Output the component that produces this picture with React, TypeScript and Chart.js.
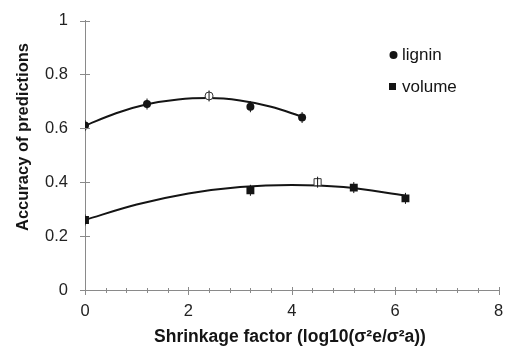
import React, { useEffect, useRef } from 'react';
import { Chart, registerables } from 'chart.js';

Chart.register(...registerables);

// Observed data (filled markers)
const ligninX = [0, 1.2, 3.2, 4.2];
const ligninY = [0.61, 0.69, 0.68, 0.64];
const volumeX = [0, 3.2, 5.2, 6.2];
const volumeY = [0.26, 0.37, 0.38, 0.34];
// Optimum (open markers)
const ligninOptX = [2.4];
const ligninOptY = [0.72];
const volumeOptX = [4.5];
const volumeOptY = [0.40];
// Fitted trend curves
const ligninTrendX = [0, 0.6, 1.2, 1.8, 2.4, 3.0, 3.6, 4.2];
const ligninTrendY = [0.61, 0.656, 0.689, 0.707, 0.712, 0.703, 0.68, 0.643];
const volumeTrendX = [0, 1, 2, 3, 4, 5, 6.2];
const volumeTrendY = [0.26, 0.317, 0.358, 0.382, 0.39, 0.382, 0.35];

const xTickLabels = ['0', '2', '4', '6', '8'];
const yTickLabels = ['0', '0.2', '0.4', '0.6', '0.8', '1'];
const seriesNames = ['lignin', 'volume'];
const xTitle = 'Shrinkage factor (log10(\u03c3\u00b2e/\u03c3\u00b2a))';
const yTitle = 'Accuracy of predictions';

const pts = (xs: number[], ys: number[]) => xs.map((x, i) => ({ x, y: ys[i] }));

const FONT = '"Liberation Sans", Arial, sans-serif';
const AXIS = '#8a8a8a';
const INK = '#141414';

const decorPlugin = {
  id: 'decor',
  afterDraw(chart: any) {
    const { ctx, chartArea, scales } = chart;
    const xs = scales.x;
    const ys = scales.y;
    ctx.save();
    ctx.strokeStyle = AXIS;
    ctx.lineWidth = 1;
    // x ticks (crossing)
    const y0 = ys.getPixelForValue(0);
    for (let i = 0; i <= 20; i++) {
      const v = i * 0.4;
      const px = Math.round(xs.getPixelForValue(v)) + 0.5;
      const major = i % 5 === 0;
      ctx.beginPath();
      ctx.moveTo(px, y0 - (major ? 3 : 2));
      ctx.lineTo(px, y0 + (major ? 5 : 3));
      ctx.stroke();
    }
    // y ticks
    const x0 = xs.getPixelForValue(0);
    for (let i = 0; i <= 5; i++) {
      const py = Math.round(ys.getPixelForValue(i * 0.2)) + 0.5;
      ctx.beginPath();
      ctx.moveTo(x0 - 5, py);
      ctx.lineTo(x0 + 5, py);
      ctx.stroke();
    }
    // axis titles
    ctx.fillStyle = INK;
    ctx.textAlign = 'center';
    ctx.textBaseline = 'middle';
    ctx.font = `bold 17.5px ${FONT}`;
    ctx.fillText(xTitle, 290, 337);
    ctx.save();
    ctx.translate(23, 137);
    ctx.rotate(-Math.PI / 2);
    ctx.font = `bold 16.5px ${FONT}`;
    ctx.fillText(yTitle, 0, 0);
    ctx.restore();
    // legend
    ctx.font = `17px ${FONT}`;
    ctx.textAlign = 'left';
    ctx.fillStyle = INK;
    ctx.beginPath();
    ctx.arc(393.5, 55, 4, 0, Math.PI * 2);
    ctx.fill();
    ctx.fillText(seriesNames[0], 402, 55);
    ctx.fillRect(389, 83, 7, 7);
    ctx.fillText(seriesNames[1], 402, 87);
    ctx.restore();
  },
};

export default function App() {
  const ref = useRef<HTMLCanvasElement | null>(null);
  useEffect(() => {
    document.body.style.margin = '0';
    const errPts = [
      ...pts(ligninX, ligninY),
      ...pts(ligninOptX, ligninOptY),
      ...pts(volumeX, volumeY),
      ...pts(volumeOptX, volumeOptY),
    ];
    const chart = new Chart(ref.current as HTMLCanvasElement, {
      type: 'scatter',
      data: {
        datasets: [
          {
            label: seriesNames[0],
            data: pts(ligninX, ligninY),
            pointStyle: 'circle',
            pointRadius: 4,
            backgroundColor: INK,
            borderColor: INK,
            borderWidth: 0,
            order: 0,
          },
          {
            label: seriesNames[1],
            data: pts(volumeX, volumeY),
            pointStyle: 'rect',
            pointRadius: 5.6,
            backgroundColor: INK,
            borderColor: INK,
            borderWidth: 0,
            order: 0,
          },
          {
            label: 'err',
            data: errPts,
            pointStyle: 'line',
            rotation: 90,
            pointRadius: 5.5,
            borderColor: INK,
            borderWidth: 1,
            order: 1,
          } as any,
          {
            label: 'ligninOpt',
            data: pts(ligninOptX, ligninOptY),
            pointStyle: 'circle',
            pointRadius: 4,
            backgroundColor: '#ffffff',
            borderColor: '#333',
            borderWidth: 1,
            order: 2,
          },
          {
            label: 'volumeOpt',
            data: pts(volumeOptX, volumeOptY),
            pointStyle: 'rect',
            pointRadius: 5,
            backgroundColor: '#ffffff',
            borderColor: '#333',
            borderWidth: 1,
            order: 2,
          },
          {
            label: 'ligninTrend',
            data: pts(ligninTrendX, ligninTrendY),
            showLine: true,
            pointRadius: 0,
            borderColor: INK,
            borderWidth: 2,
            tension: 0.4,
            cubicInterpolationMode: 'monotone',
            order: 3,
          } as any,
          {
            label: 'volumeTrend',
            data: pts(volumeTrendX, volumeTrendY),
            showLine: true,
            pointRadius: 0,
            borderColor: INK,
            borderWidth: 2,
            tension: 0.4,
            cubicInterpolationMode: 'monotone',
            order: 3,
          } as any,
        ],
      },
      options: {
        animation: false,
        responsive: false,
        layout: { padding: { left: 0, right: 0, top: 20.5, bottom: 0 } },
        plugins: { legend: { display: false }, tooltip: { enabled: false } },
        scales: {
          x: {
            type: 'linear',
            min: 0,
            max: 8,
            afterFit: (s: any) => { s.height = 56; s.paddingRight = 6; },
            border: { display: true, color: AXIS, width: 1 },
            grid: { display: false },
            ticks: {
              stepSize: 2,
              padding: 4,
              color: '#222',
              font: { family: FONT, size: 16.5 },
              callback: (_v: any, i: number) => xTickLabels[i],
            },
          },
          y: {
            type: 'linear',
            min: 0,
            max: 1,
            afterFit: (s: any) => { s.width = 85; },
            border: { display: true, color: AXIS, width: 1 },
            grid: { display: false },
            ticks: {
              stepSize: 0.2,
              padding: 9,
              color: '#222',
              font: { family: FONT, size: 16.5 },
              callback: (_v: any, i: number) => yTickLabels[i],
            },
          },
        },
      },
      plugins: [decorPlugin],
    });
    return () => chart.destroy();
  }, []);
  return (
    <div style={{ width: 505, height: 346 }}>
      <canvas ref={ref} width={505} height={346} />
    </div>
  );
}
